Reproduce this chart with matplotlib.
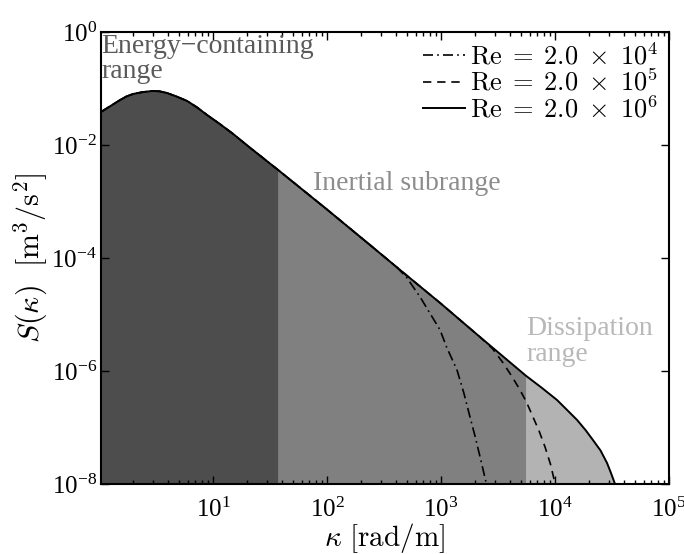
import numpy as np
import matplotlib
matplotlib.use("Agg")
from matplotlib import pyplot as plt
from matplotlib.font_manager import FontProperties
from matplotlib.ticker import LogLocator, NullLocator, NullFormatter

# values (log-log spectrum)
# Re = 2.0e6, full curve
kappa_hi = [1.04, 1.26, 1.53, 1.74, 1.99, 2.4, 2.92, 3.39, 3.94, 4.8, 5.92, 7.24, 8.85,
            11.5, 15.0, 20.7, 37.2, 100, 238, 411, 1000, 2200, 5570, 7590, 10400,
            12600, 15600, 18600, 21500, 25100, 28600, 30900, 33600, 39800]
S_hi = [0.0384, 0.049, 0.0626, 0.0724, 0.0800, 0.0861, 0.0903, 0.0891, 0.0832, 0.0719,
        0.0601, 0.0462, 0.0340, 0.0234, 0.01567, 0.00922, 0.00361, 7.2e-4, 1.70e-4,
        6.8e-5, 1.55e-5, 3.98e-6, 8.2e-7, 5.1e-7, 3.07e-7, 2.09e-7, 1.36e-7, 8.9e-8,
        6.0e-8, 3.9e-8, 2.35e-8, 1.58e-8, 1.0e-8, 3.5e-9]

# Re = 2.0e4, tail after it leaves the common curve (at kappa = 411)
kappa_lo_tail = [501, 655, 980, 1120, 1380, 1585, 1795, 1995, 2200, 2480, 2690]
S_lo_tail = [4.47e-5, 2.04e-5, 5.32e-6, 2.63e-6, 1.04e-6, 4.07e-7, 1.53e-7, 6.8e-8,
             3.0e-8, 1.08e-8, 4.0e-9]

# Re = 2.0e5, tail after it leaves the common curve (at kappa = 2200)
kappa_mid_tail = [2820, 3500, 4170, 4930, 5620, 6410, 7240, 8170, 9120, 9980, 10700]
S_mid_tail = [2.5e-6, 1.39e-6, 8.1e-7, 4.61e-7, 2.8e-7, 1.53e-7, 8.7e-8, 4.52e-8,
              2.24e-8, 1.04e-8, 5.0e-9]

# range boundaries
k_inertial = 37.2
k_dissip = 5570

labels = [r"$\mathrm{Re}\;=\;2.0\;\times\;10^4$",
          r"$\mathrm{Re}\;=\;2.0\;\times\;10^5$",
          r"$\mathrm{Re}\;=\;2.0\;\times\;10^6$"]

plt.rcParams["font.family"] = "serif"
plt.rcParams["font.serif"] = ["Liberation Serif", "DejaVu Serif"]
plt.rcParams["mathtext.fontset"] = "stix"

kh = np.array(kappa_hi)
Sh = np.array(S_hi)
n_lo = np.searchsorted(kh, 411) + 1
n_mid = np.searchsorted(kh, 2200) + 1
k_lo = np.concatenate([kh[:n_lo], kappa_lo_tail])
S_lo = np.concatenate([Sh[:n_lo], S_lo_tail])
k_mid = np.concatenate([kh[:n_mid], kappa_mid_tail])
S_mid = np.concatenate([Sh[:n_mid], S_mid_tail])

fig = plt.figure(figsize=(6.84, 5.54), dpi=100)
ax = fig.add_axes([0.1477, 0.1264, 0.8304, 0.8159])
ax.set_xscale("log")
ax.set_yscale("log")

# shaded ranges under the Re=2e6 curve (stacked so no seams show)
m2 = kh <= k_dissip
m1 = kh <= k_inertial
ax.fill_between(kh, Sh, 1e-12, color="#b3b3b3", lw=0)
ax.fill_between(kh[m2], Sh[m2], 1e-12, color="#808080", lw=0)
ax.fill_between(kh[m1], Sh[m1], 1e-12, color="#4d4d4d", lw=0)

ax.plot(k_lo, S_lo, color="k", lw=1.2, ls=(0, (6, 2.5, 1, 2.5)), label=labels[0])
ax.plot(k_mid, S_mid, color="k", lw=1.2, ls=(0, (5, 3.5)), label=labels[1])
ax.plot(kh, Sh, color="k", lw=1.4, ls="-", label=labels[2])

ax.set_xlim(1.04, 1e5)
ax.set_ylim(1e-8, 1)

ax.xaxis.set_major_locator(LogLocator(base=10, numticks=10))
ax.xaxis.set_minor_locator(LogLocator(base=10, subs=np.arange(2, 10), numticks=20))
ax.xaxis.set_minor_formatter(NullFormatter())
ax.set_yticks([1e-8, 1e-6, 1e-4, 1e-2, 1])
ax.yaxis.set_minor_locator(NullLocator())

ax.tick_params(which="both", direction="in", top=True, right=True, labelsize=18, width=1)
ax.tick_params(which="major", length=6)
ax.tick_params(which="minor", length=3)
ax.tick_params(axis="x", pad=10)
ax.tick_params(axis="y", pad=3)
for sp in ax.spines.values():
    sp.set_linewidth(1.5)

ax.set_xlabel(r"$\kappa\ [\mathrm{rad/m}]$", fontsize=21, math_fontfamily="cm", labelpad=-1)
ax.set_ylabel(r"$S(\kappa)\ \ [\mathrm{m}^3/\mathrm{s}^2]$", fontsize=21.5, math_fontfamily="cm",
              labelpad=1)

ax.text(0.0, 0.995, "Energy\u2212containing\nrange", transform=ax.transAxes, ha="left", va="top",
        fontsize=20, color="#5a5a5a", linespacing=1.0)
ax.text(75, 3.4e-3, "Inertial subrange", ha="left", va="top", fontsize=20, color="#8c8c8c")
ax.text(5570, 9.5e-6, "Dissipation\nrange", ha="left", va="top", fontsize=20, color="#b8b8b8",
        linespacing=1.05)

leg = ax.legend(loc="upper right", frameon=False, handlelength=1.6, handletextpad=0.2,
                labelspacing=0.0, borderaxespad=0.2, borderpad=0.2,
                prop=FontProperties(size=19, math_fontfamily="cm"))

fig.savefig("out.png", dpi=100)
